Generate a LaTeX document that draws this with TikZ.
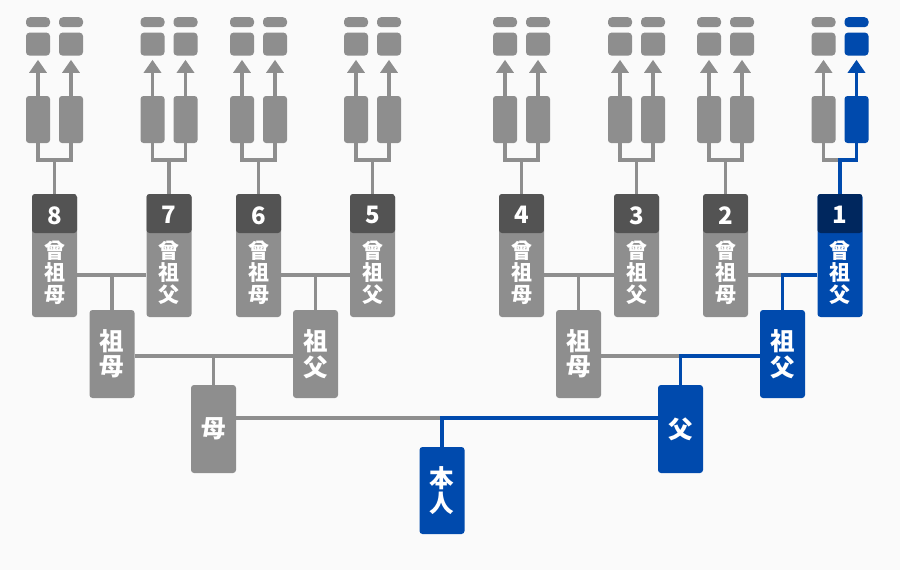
\documentclass[tikz,border=0pt]{standalone}
\usepackage{fontspec}
\setmainfont{Noto Sans CJK JP}
\usetikzlibrary{arrows.meta,positioning,calc}

\definecolor{bggray}{HTML}{FAFAFA}
\definecolor{boxgray}{HTML}{8E8E8E}
\definecolor{hdgray}{HTML}{535353}
\definecolor{myblue}{HTML}{004AAD}
\definecolor{hdblue}{HTML}{00275E}

\newcommand{\numfont}{\fontsize{24}{24}\selectfont}

\begin{document}
\begin{tikzpicture}[x=1pt, y=-1pt,
    person/.style={rectangle, rounded corners=3pt, fill=boxgray, text=white, minimum width=45pt, minimum height=88pt, inner sep=0pt, align=center, font=\bfseries\fontsize{24.5}{25.5}\selectfont},
    ggbox/.style={person, minimum height=123pt, font=\bfseries\fontsize{21}{22}\selectfont,
        path picture={\fill[#1] (path picture bounding box.north west) rectangle ($(path picture bounding box.north east)+(0,39)$);}},
    ggbox/.default=hdgray,
    tallbox/.style={rectangle, rounded corners=3pt, fill=boxgray, minimum width=24pt, minimum height=47pt, inner sep=0pt},
    sqbox/.style={rectangle, rounded corners=3.5pt, fill=boxgray, minimum width=24pt, minimum height=23pt, inner sep=0pt},
    capbox/.style={rectangle, rounded corners=4pt, fill=boxgray, minimum width=24pt, minimum height=10pt, inner sep=0pt},
    conn/.style={line width=3.5pt, draw=boxgray},
    up/.style={-{Triangle[width=17pt,length=13pt]}, line width=3.5pt, shorten >=4pt}]

    \fill[bggray] (0,0) rectangle (900,570);

    % upper generations
    \foreach \n/\c/\col in {8/54.5/boxgray,7/169/boxgray,6/258.5/boxgray,5/372.5/boxgray,4/521.5/boxgray,3/636.5/boxgray,2/725.5/boxgray,1/840/myblue}{
        \node[tallbox] (tl\n) at (\c-16.5,119.5) {};
        \node[tallbox, fill=\col] (tr\n) at (\c+16.5,119.5) {};
        \node[sqbox, above=40pt of tl\n] (sl\n) {};
        \node[sqbox, fill=\col, above=40pt of tr\n] (sr\n) {};
        \node[capbox, above=5pt of sl\n] (cl\n) {};
        \node[capbox, fill=\col, above=5pt of sr\n] (cr\n) {};
        \draw[up, boxgray] (tl\n) -- (sl\n);
        \draw[up, \col] (tr\n) -- (sr\n);
        \coordinate (fk\n) at (\c,160);
    }

    % great-grandparents
    \node[ggbox] (gg8) at (54.5,255.5) {{\numfont 8}\\[12.5pt]曾\\祖\\母};
    \node[ggbox] (gg7) at (169,255.5) {{\numfont 7}\\[12.5pt]曾\\祖\\父};
    \node[ggbox] (gg6) at (258.5,255.5) {{\numfont 6}\\[12.5pt]曾\\祖\\母};
    \node[ggbox] (gg5) at (372.5,255.5) {{\numfont 5}\\[12.5pt]曾\\祖\\父};
    \node[ggbox] (gg4) at (521.5,255.5) {{\numfont 4}\\[12.5pt]曾\\祖\\母};
    \node[ggbox] (gg3) at (636.5,255.5) {{\numfont 3}\\[12.5pt]曾\\祖\\父};
    \node[ggbox] (gg2) at (725.5,255.5) {{\numfont 2}\\[12.5pt]曾\\祖\\母};
    \node[ggbox=hdblue, fill=myblue] (gg1) at (840,255.5) {{\numfont 1}\\[12.5pt]曾\\祖\\父};

    % grandparents, parents, self
    \node[person] (gmm) at (112,354) {祖\\母};
    \node[person] (gfm) at (315.5,354) {祖\\父};
    \node[person] (gmp) at (578.5,354) {祖\\母};
    \node[person, fill=myblue] (gfp) at (782.5,354) {祖\\父};
    \node[person] (mother) at (213.5,429) {母};
    \node[person, fill=myblue] (father) at (680.5,429) {父};
    \node[person, minimum height=87pt, fill=myblue] (self) at (442,490.5) {本\\人};

    \coordinate (j87) at (112,275);
    \coordinate (j65) at (315.5,275);
    \coordinate (j43) at (578.5,275);
    \coordinate (j21) at (782.5,275);
    \coordinate (jm) at (213.5,356);
    \coordinate (jp) at (680.5,356);
    \coordinate (js) at (442,418);

    \foreach \n/\col in {8/boxgray,7/boxgray,6/boxgray,5/boxgray,4/boxgray,3/boxgray,2/boxgray,1/myblue}{
        \draw[conn] (tl\n.south) |- (fk\n);
        \draw[conn, draw=\col] (tr\n.south) |- (fk\n) -- (gg\n.north);
    }

    \draw[conn] (gg8.east |- j87) -- (gg7.west |- j87);
    \draw[conn] (j87) -- (gmm.north);
    \draw[conn] (gg6.east |- j65) -- (gg5.west |- j65);
    \draw[conn] (j65) -- (gfm.north);
    \draw[conn] (gg4.east |- j43) -- (gg3.west |- j43);
    \draw[conn] (j43) -- (gmp.north);
    \draw[conn] (gg2.east |- j21) -- (j21);
    \draw[conn, draw=myblue] (gg1.west |- j21) -| (gfp.north);

    \draw[conn] (gmm.east |- jm) -- (gfm.west |- jm);
    \draw[conn] (jm) -- (mother.north);
    \draw[conn] (gmp.east |- jp) -- (jp);
    \draw[conn, draw=myblue] (gfp.west |- jp) -| (father.north);

    \draw[conn] (mother.east |- js) -- (js);
    \draw[conn, draw=myblue] (father.west |- js) -| (self.north);
\end{tikzpicture}
\end{document}
